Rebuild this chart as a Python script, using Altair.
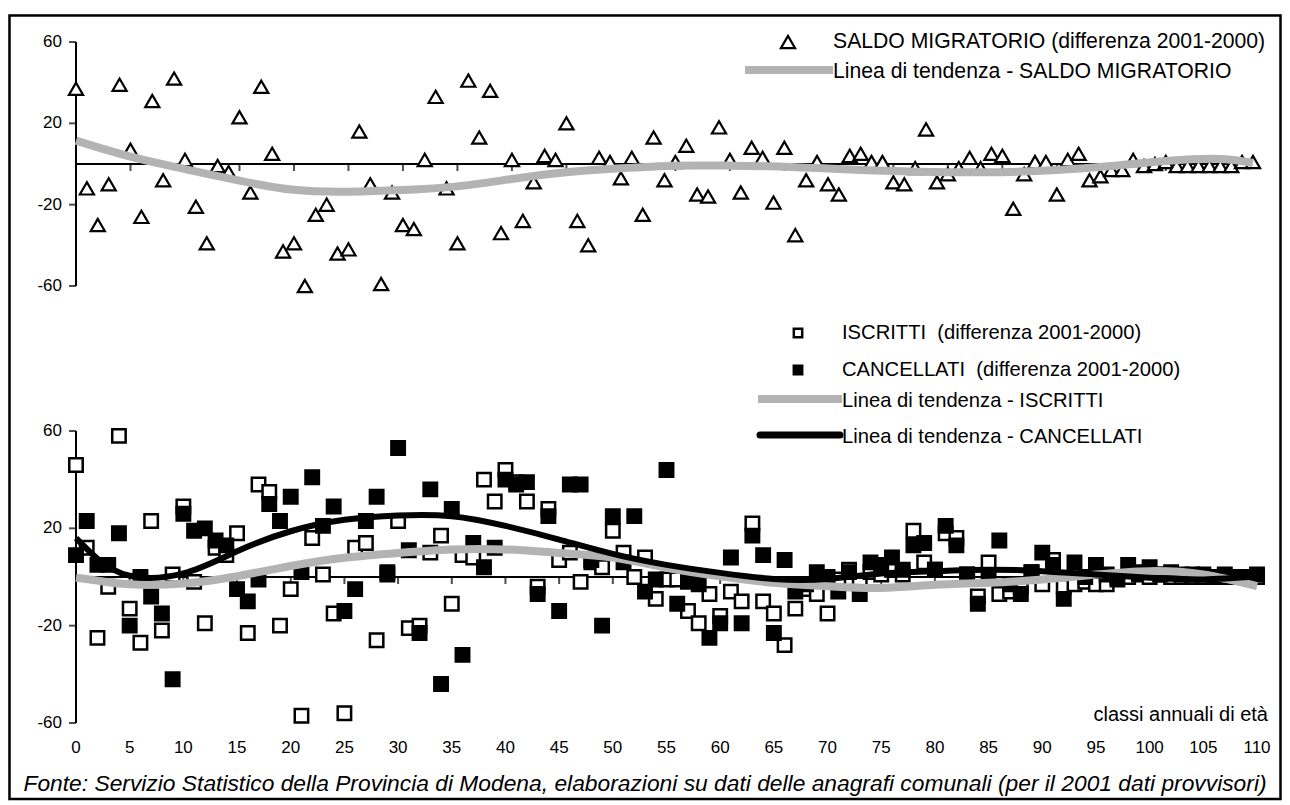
import altair as alt
import pandas as pd

# ---------------- data ----------------
ages_top = list(range(109))
saldo = [37, -12, -30, -10, 39, 7, -26, 31, -8, 42, 2, -21, -39, -1, -4, 23, -14, 38, 5, -43,
         -39, -60, -25, -20, -44, -42, 16, -10, -59, -14, -30, -32, 2, 33, -12, -39, 41, 13, 36, -34,
         2, -28, -9, 4, 2, 20, -28, -40, 3, 1, -7, 3, -25, 13, -8, 1, 9, -15, -16, 18,
         2, -14, 8, 3, -19, 8, -35, -8, 1, -10, -15, 4, 5, 1, 1, -9, -10, -2, 17, -9,
         -5, -2, 3, -2, 5, 4, -22, -5, 1, 1, -15, 2, 5, -8, -6, -3, -3, 2, -1, 0,
         1, -1, -1, -1, -1, -1, -1, 1, 1]
trend_top_age = [0, 5, 10, 15, 20, 25, 30, 35, 40, 45, 50, 55, 60, 65, 70, 75, 80, 85, 90, 95, 100, 105, 108]
trend_saldo = [11.5, 3.6, -2.5, -8.2, -12.7, -13.6, -12.8, -11, -7.4, -4.1, -2.1, -0.8, -0.8, -1.3,
               -2.5, -3.5, -4, -4, -3, -1, 1.5, 2.5, 0.5]

ages_bot = list(range(111))
iscritti = [46, 12, -25, -4, 58, -13, -27, 23, -22, 1, 29, -2, -19, 12, 9, 18, -23, 38, 35, -20,
            -5, -57, 16, 1, -15, -56, 12, 14, -26, 1, 23, -21, -20, 10, 17, -11, 9, 8, 40, 31,
            44, 39, 31, -4, 28, 7, 10, -2, 6, 4, 19, 10, 0, 8, -9, -1, -1, -14, -19, -7,
            -16, -6, -10, 22, -10, -15, -28, -13, -5, -7, -15, -1, 3, -3, 2, 1, 3, 1, 19, 6,
            3, 18, 16, 1, -8, 6, -7, -6, -4, 2, -3, 7, -4, -3, -2, -3, -3, -1, 0, 1,
            0, 1, 0, 0, 0, 0, 0, 0, 0, 0, 0]
cancellati = [9, 23, 5, 5, 18, -20, 0, -8, -15, -42, 26, 19, 20, 15, 13, -5, -10, -1, 30, 23,
              33, 2, 41, 21, 29, -14, -5, 23, 33, 2, 53, 11, -23, 36, -44, 28, -32, 14, 4, 12,
              40, 38, 39, -7, 25, -14, 38, 38, 7, -20, 25, 6, 25, -6, -1, 44, -11, -2, -3, -25,
              -19, 8, -19, 17, 9, -23, 7, -6, -3, 2, 0, -6, 2, -7, 6, 5, 8, 3, 13, 14,
              3, 21, 13, 1, -11, 0, 15, -3, -7, 2, 10, 5, -9, 6, 0, 5, 1, 0, 5, 2,
              4, 1, 2, 1, 1, 1, 0, 1, 0, 0, 1]
trend_bot_age = [0, 2, 5, 10, 15, 20, 25, 30, 35, 40, 45, 50, 55, 60, 65, 70, 75, 80, 85, 90, 95, 100, 105, 110]
trend_iscritti = [-0.3, -1.5, -3, -2.7, 0.3, 4.5, 7.9, 9.9, 11.3, 11.3, 9.9, 8, 3.8, 0.3, -2.4, -3.8,
                  -4.5, -3.2, -2.4, -1, 1, 2.4, 1, -3.8]
trend_cancellati = [16, 7.5, 0.5, 1.5, 10.6, 18.8, 23.5, 25.3, 25, 21, 15.4, 9.5, 5, 1.7, -0.8, -0.8,
                    1.4, 2.4, 3, 2.4, 1, -0.3, -1, 0.3]

y_ticks = [60, 20, -20, -60]
y_tick_labels = ["60", "20", "-20", "-60"]
x_ticks_top = list(range(5, 106, 5))
x_ticks_bot = list(range(5, 111, 5))
x_labels = list(range(0, 111, 5))

leg_saldo = "SALDO MIGRATORIO (differenza 2001-2000)"
leg_saldo_trend = "Linea di tendenza - SALDO MIGRATORIO"
leg_iscr = "ISCRITTI \u00a0(differenza 2001-2000)"
leg_canc = "CANCELLATI \u00a0(differenza 2001-2000)"
leg_iscr_trend = "Linea di tendenza - ISCRITTI"
leg_canc_trend = "Linea di tendenza - CANCELLATI"
x_title = "classi annuali di età"
footer = ("Fonte: Servizio Statistico della Provincia di Modena, elaborazioni su dati delle "
          "anagrafi comunali (per il 2001 dati provvisori)")

# ---------------- styling ----------------
FONT = "Liberation Sans"
GREY = "#b3b3b3"
LEG_TOP = 21.2
LEG_BOT = 20.2
XT = alt.Scale(domain=[0, 108], range=[68, 1245])
YT = alt.Scale(domain=[-60, 60], range=[272, 28])
XB = alt.Scale(domain=[0, 110], range=[68, 1249])
YB = alt.Scale(domain=[-60, 60], range=[709, 417])


def xq(field, sc):
    return alt.X(field, type="quantitative", scale=sc, axis=None)


def yq(field, sc):
    return alt.Y(field, type="quantitative", scale=sc, axis=None)


def panel(xs, ys, xmax, xticks):
    layers = []
    zero = pd.DataFrame({"a": [0, xmax], "v": [0, 0]})
    layers.append(alt.Chart(zero).mark_line(color="black", strokeWidth=2)
                  .encode(x=xq("a", xs), y=yq("v", ys)))
    tk = pd.DataFrame({"a": xticks, "v": [0] * len(xticks)})
    layers.append(alt.Chart(tk).mark_tick(orient="vertical", size=7, thickness=2, yOffset=3.5, color="black")
                  .encode(x=xq("a", xs), y=yq("v", ys)))
    ax = pd.DataFrame({"a": [0], "lo": [min(y_ticks)], "hi": [max(y_ticks)]})
    layers.append(alt.Chart(ax).mark_rule(color="black", strokeWidth=2)
                  .encode(x=xq("a", xs), y=yq("lo", ys), y2="hi:Q"))
    yt = pd.DataFrame({"a": [0] * len(y_ticks), "v": y_ticks, "t": y_tick_labels})
    layers.append(alt.Chart(yt).mark_tick(orient="horizontal", size=7, thickness=2, xOffset=-3.5, color="black")
                  .encode(x=xq("a", xs), y=yq("v", ys)))
    layers.append(alt.Chart(yt).mark_text(align="right", baseline="middle", dx=-14, fontSize=17,
                                          font=FONT, color="black")
                  .encode(x=xq("a", xs), y=yq("v", ys), text="t:N"))
    return layers


def fixed_text(txt, x, y, size, align="left", style="normal"):
    return (alt.Chart(pd.DataFrame({"t": [txt]}))
            .mark_text(align=align, baseline="middle", fontSize=size, font=FONT, fontStyle=style, color="black")
            .encode(text="t:N", x=alt.value(x), y=alt.value(y)))


def fixed_line(x1, x2, y, color, w, cap="butt"):
    return (alt.Chart(pd.DataFrame({"t": [0]}))
            .mark_rule(color=color, strokeWidth=w, strokeCap=cap)
            .encode(x=alt.value(x1), x2=alt.value(x2), y=alt.value(y)))


layers = []
# frame
layers.append(alt.Chart(pd.DataFrame({"t": [0]}))
              .mark_rect(fillOpacity=0, stroke="black", strokeWidth=2.5)
              .encode(x=alt.value(1.5), x2=alt.value(1272.5), y=alt.value(1.5), y2=alt.value(785)))

# ---- top panel ----
layers += panel(XT, YT, 108, x_ticks_top)
df_top = pd.DataFrame({"a": ages_top, "v": saldo})
layers.append(alt.Chart(df_top).mark_point(shape="triangle-up", filled=True, fill="white", stroke="black",
                                           strokeWidth=2.2, size=200, opacity=1)
              .encode(x=xq("a", XT), y=yq("v", YT)))
df_tt = pd.DataFrame({"a": trend_top_age, "v": trend_saldo})
layers.append(alt.Chart(df_tt).mark_line(color=GREY, strokeWidth=8, interpolate="natural")
              .encode(x=xq("a", XT), y=yq("v", YT)))

# ---- bottom panel ----
layers += panel(XB, YB, 110, x_ticks_bot)
df_i = pd.DataFrame({"a": ages_bot, "v": iscritti})
layers.append(alt.Chart(df_i).mark_square(fill="white", stroke="black", strokeWidth=2.5, size=180, opacity=1)
              .encode(x=xq("a", XB), y=yq("v", YB)))
df_c = pd.DataFrame({"a": ages_bot, "v": cancellati})
layers.append(alt.Chart(df_c).mark_square(fill="black", stroke="black", strokeWidth=2.5, size=180, opacity=1)
              .encode(x=xq("a", XB), y=yq("v", YB)))
df_ti = pd.DataFrame({"a": trend_bot_age, "v": trend_iscritti})
layers.append(alt.Chart(df_ti).mark_line(color=GREY, strokeWidth=8, interpolate="natural")
              .encode(x=xq("a", XB), y=yq("v", YB)))
df_tc = pd.DataFrame({"a": trend_bot_age, "v": trend_cancellati})
layers.append(alt.Chart(df_tc).mark_line(color="black", strokeWidth=6, interpolate="natural")
              .encode(x=xq("a", XB), y=yq("v", YB)))

# x labels
df_xl = pd.DataFrame({"a": x_labels, "t": [str(v) for v in x_labels]})
layers.append(alt.Chart(df_xl).mark_text(baseline="middle", fontSize=17, font=FONT, color="black")
              .encode(x=xq("a", XB), y=alt.value(734), text="t:N"))
layers.append(fixed_text(x_title, 1260, 701, 20, align="right"))
layers.append(fixed_text(footer, 637, 770, 22.8, align="center", style="italic"))

# ---- legends ----
layers.append(alt.Chart(pd.DataFrame({"t": [0]}))
              .mark_point(shape="triangle-up", filled=True, fill="white", stroke="black", strokeWidth=2.2,
                          size=200, opacity=1)
              .encode(x=alt.value(780), y=alt.value(28)))
layers.append(fixed_text(leg_saldo, 825, 28, LEG_TOP))
layers.append(fixed_line(737, 825, 56, GREY, 8))
layers.append(fixed_text(leg_saldo_trend, 825, 58, LEG_TOP))

layers.append(alt.Chart(pd.DataFrame({"t": [0]}))
              .mark_square(fill="white", stroke="black", strokeWidth=2.5, size=70, opacity=1)
              .encode(x=alt.value(790), y=alt.value(319)))
layers.append(fixed_text(leg_iscr, 834, 319, LEG_BOT))
layers.append(alt.Chart(pd.DataFrame({"t": [0]}))
              .mark_square(fill="black", stroke="black", strokeWidth=2.5, size=70, opacity=1)
              .encode(x=alt.value(790), y=alt.value(356)))
layers.append(fixed_text(leg_canc, 834, 356, LEG_BOT))
layers.append(fixed_line(750, 834, 385, GREY, 8))
layers.append(fixed_text(leg_iscr_trend, 834, 387, LEG_BOT))
layers.append(fixed_line(752, 832, 421, "black", 7, cap="round"))
layers.append(fixed_text(leg_canc_trend, 834, 423, LEG_BOT))

chart = (alt.layer(*layers)
         .resolve_scale(x="independent", y="independent")
         .properties(width=1274, height=787,
                     padding={"left": 0, "top": 6, "right": 0, "bottom": 0},
                     autosize=alt.AutoSizeParams(type="none"))
         .configure_view(strokeWidth=0)
         .configure(background="white"))

chart.save("out.html", embed_options={"renderer": "svg", "actions": False})
